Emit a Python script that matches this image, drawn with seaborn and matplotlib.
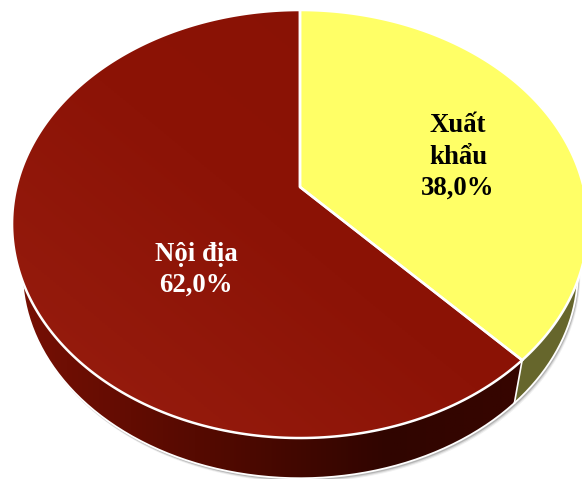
import numpy as np
import seaborn as sns
import matplotlib.pyplot as plt
from matplotlib.patches import Polygon

labels = ["Xuất\nkhẩu\n38,0%", "Nội địa\n62,0%"]
values = [38.0, 62.0]
top_colors = ["#FFFF66", "#8C1306"]
side_colors = ["#66662C", "#3A0500"]
text_colors = ["black", "white"]
text_pos = [(458, 157), (196, 270)]


def project(cw_deg, scale=1.0, apex=(300, 187)):
    # pie seen in perspective: the far half looks shorter than the near half
    t = np.radians(cw_deg)
    x, y = np.sin(t), np.cos(t)
    w = 1 + 0.173 * y
    return apex[0] + scale * 283.6 * x / w, apex[1] - scale * 207.6 * y / w


def rim(a, b, scale=1.0, apex=(300, 187)):
    px, py = project(np.linspace(a, b, 240), scale, apex)
    return np.column_stack([px, py])


def gradient_fill(ax, patch, colors, horizontal=True):
    cmap = sns.blend_palette(colors, as_cmap=True)
    gx, gy = np.meshgrid(np.linspace(0, 1, 200), np.linspace(0, 1, 200))
    grad = gx if horizontal else (1 - gx + gy) / 2
    ax.add_patch(patch)
    im = ax.imshow(grad, extent=(0, 582, 479, 0), cmap=cmap, aspect="auto", zorder=patch.get_zorder())
    im.set_clip_path(patch)


sns.set_theme(style="white")
plt.rcParams["font.family"] = ["Liberation Serif", "DejaVu Serif"]

fig = plt.figure(figsize=(5.82, 4.79), dpi=100)
ax = fig.add_axes([0, 0, 1, 1])

# the pie gives the slice angles, the wedges are then redrawn with the tilt
wedges, _ = ax.pie(values, startangle=90, counterclock=False)
ranges = [(90 - w.theta2, 90 - w.theta1) for w in wedges]
for w in wedges:
    w.remove()
ax.set_aspect("auto")

low_apex = (300, 236)
low_scale = 0.965

# soft shadow under the lower rim
outline = rim(0, 360, low_scale, low_apex)
for off, alpha in [(4, 0.06), (3, 0.10), (2, 0.16)]:
    ax.add_patch(Polygon(outline + [off * 0.6, off], closed=True, fc="black", ec="none", alpha=alpha, zorder=1))

# sides
for (a, b), col in zip(ranges, side_colors):
    pts = np.vstack([rim(a, b), rim(a, b, low_scale, low_apex)[::-1]])
    if col == side_colors[1]:
        patch = Polygon(pts, closed=True, fc="none", ec="none", zorder=2)
        gradient_fill(ax, patch, ["#7A1004", "#560A01", "#300500", "#3A0500"])
    else:
        ax.add_patch(Polygon(pts, closed=True, fc=col, ec="none", zorder=2))
    ax.plot(*np.column_stack(rim(a, b, low_scale, low_apex)), color="white", lw=1.3, zorder=3)
    ax.plot(*np.column_stack(np.vstack([rim(a, a), rim(a, a, low_scale, low_apex)[:1]])), color="white", lw=1.2, zorder=3)

# top faces
for i, ((a, b), col) in enumerate(zip(ranges, top_colors)):
    pts = np.vstack([[300, 187], rim(a, b)])
    if i == 1:
        patch = Polygon(pts, closed=True, fc="none", ec="none", zorder=4)
        gradient_fill(ax, patch, ["#871104", "#8C1306", "#9A1F11"], horizontal=False)
    else:
        ax.add_patch(Polygon(pts, closed=True, fc=col, ec="none", zorder=4))
for (a, b) in ranges:
    pts = np.vstack([[300, 187], rim(a, b)])
    ax.add_patch(Polygon(pts, closed=True, fc="none", ec="white", lw=1.8, joinstyle="miter", zorder=5))

for lab, col, (tx, ty) in zip(labels, text_colors, text_pos):
    ax.text(tx, ty, lab, color=col, ha="center", va="center", fontsize=19.3, fontweight="bold",
            linespacing=1.32, zorder=6)

ax.set_xlim(0, 582)
ax.set_ylim(479, 0)
ax.axis("off")
fig.savefig("out.png", dpi=100, facecolor="white")
